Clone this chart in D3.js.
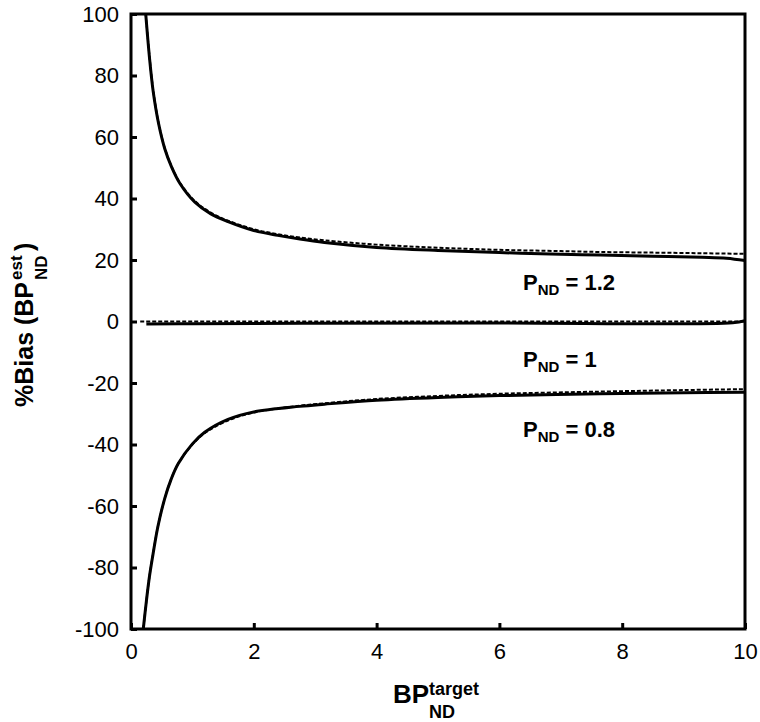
<!DOCTYPE html>
<html>
<head>
<meta charset="utf-8">
<script src="https://cdn.jsdelivr.net/npm/d3@7"></script>
<style>
  body { margin: 0; background: #fff; }
  svg { display: block; }
  text { font-family: "Liberation Sans", Arial, Helvetica, sans-serif; }
</style>
</head>
<body>
<svg id="chart" width="760" height="722"></svg>
<script>
// ---- data ----
const xTicks = [0, 2, 4, 6, 8, 10];
const yTicks = [-100, -80, -60, -40, -20, 0, 20, 40, 60, 80, 100];

// P_ND = 1.2
const high_solid_x = [0.24, 0.3, 0.36, 0.45, 0.55, 0.66, 0.8, 1.04, 1.3, 1.58, 2, 2.39, 2.75, 3.15, 4, 5, 6, 7, 7.64, 8.5, 9.3, 9.7, 10];
const high_solid_y = [100, 86, 75, 64.3, 56.2, 50.3, 44.8, 38.8, 35, 32.5, 29.6, 28, 26.8, 25.7, 24.1, 23.1, 22.4, 21.9, 21.6, 21.2, 20.9, 20.6, 19.8];
const high_dash_x  = [0.24, 0.3, 0.36, 0.45, 0.55, 0.66, 0.8, 1.04, 1.3, 1.58, 2, 2.39, 2.75, 3.15, 4, 5, 6, 7, 7.64, 8.5, 9.3, 10];
const high_dash_y  = [100, 86.5, 75.5, 64.5, 56.4, 50.5, 45, 39.2, 35.4, 32.8, 30, 28.4, 27.3, 26.4, 25, 24, 23.3, 22.9, 22.6, 22.4, 22.2, 22];

// P_ND = 1
const mid_solid_x = [0.25, 1, 3, 6, 9.8, 10];
const mid_solid_y = [-0.8, -0.7, -0.6, -0.5, -0.4, 0.3];
const mid_dash_x  = [0.15, 10];
const mid_dash_y  = [0, 0];

// P_ND = 0.8
const low_solid_x = [0.2, 0.25, 0.3, 0.36, 0.44, 0.55, 0.65, 0.77, 1, 1.2, 1.58, 2, 2.75, 3.15, 4, 5, 6, 7.64, 9, 10];
const low_solid_y = [-100, -91, -83, -75.5, -66.5, -57.5, -51.5, -46.2, -39.8, -36, -31.8, -29.4, -27.6, -26.9, -25.6, -24.7, -24.1, -23.5, -23.2, -23];
const low_dash_x  = [0.2, 0.25, 0.3, 0.36, 0.44, 0.55, 0.65, 0.77, 1, 1.2, 1.58, 2, 2.75, 3.15, 4, 5, 6, 7.64, 9, 10];
const low_dash_y  = [-100, -91, -83, -75.5, -66.5, -57.5, -51.5, -46.2, -40, -36.3, -32.2, -29.6, -27.4, -26.6, -25.2, -24.2, -23.5, -22.8, -22.3, -22];

const labels = [
  { main: "P", sub: "ND", rest: " = 1.2", y: 290 },
  { main: "P", sub: "ND", rest: " = 1",   y: 366.5 },
  { main: "P", sub: "ND", rest: " = 0.8", y: 436.5 }
];

// ---- layout ----
const svg = d3.select("#chart");
const L = 131, R = 745, T = 14, B = 629;

const x = d3.scaleLinear().domain([0, 10]).range([L, R]);
const y = d3.scaleLinear().domain([-100, 100]).range([B, T]);

svg.append("defs").append("clipPath").attr("id", "clip")
  .append("rect").attr("x", L).attr("y", T).attr("width", R - L).attr("height", B - T);

const zip = (xs, ys) => xs.map((v, i) => [v, ys[i]]);
const line = d3.line().x(d => x(d[0])).y(d => y(d[1])).curve(d3.curveCatmullRom.alpha(0.5));

const g = svg.append("g").attr("clip-path", "url(#clip)");

const series = [
  { d: zip(high_solid_x, high_solid_y), dash: false },
  { d: zip(high_dash_x, high_dash_y), dash: true },
  { d: zip(mid_solid_x, mid_solid_y), dash: false },
  { d: zip(mid_dash_x, mid_dash_y), dash: true },
  { d: zip(low_solid_x, low_solid_y), dash: false },
  { d: zip(low_dash_x, low_dash_y), dash: true }
];

series.forEach(s => {
  g.append("path")
    .attr("d", line(s.d))
    .attr("fill", "none")
    .attr("stroke", "#000")
    .attr("stroke-width", s.dash ? 2 : 3)
    .attr("stroke-dasharray", s.dash ? "4,2" : null);
});

// axes (ticks inward)
const fmt = d => String(d);
const xAxis = d3.axisBottom(x).tickValues(xTicks).tickSizeInner(-6).tickSizeOuter(0).tickPadding(10).tickFormat(fmt);
const yAxis = d3.axisLeft(y).tickValues(yTicks).tickSizeInner(-6).tickSizeOuter(0).tickPadding(12).tickFormat(fmt);

const gx = svg.append("g").attr("transform", `translate(0,${B})`).call(xAxis);
const gy = svg.append("g").attr("transform", `translate(${L},0)`).call(yAxis);

[gx, gy].forEach(a => {
  a.select(".domain").remove();
  a.selectAll(".tick line").attr("stroke", "#000").attr("stroke-width", 3);
  a.selectAll(".tick text").attr("fill", "#000").style("font-size", "22px")
    .style("font-family", "'Liberation Sans', Arial, sans-serif");
});
gx.selectAll(".tick text").attr("dy", "0.9em");

// frame
svg.append("rect")
  .attr("x", L).attr("y", T).attr("width", R - L).attr("height", B - T)
  .attr("fill", "none").attr("stroke", "#000").attr("stroke-width", 3);

// curve labels
labels.forEach(lb => {
  const t = svg.append("text").attr("x", 523).attr("y", lb.y)
    .style("font-size", "22px").style("font-weight", "bold").attr("fill", "#000");
  t.append("tspan").text(lb.main);
  t.append("tspan").text(lb.sub).style("font-size", "15px").attr("dy", 5);
  t.append("tspan").text(lb.rest).attr("dy", -5);
});

// x-axis title
const xt = svg.append("text").attr("x", 393).attr("y", 703)
  .style("font-size", "26px").style("font-weight", "bold").attr("fill", "#000");
xt.append("tspan").text("BP");
svg.append("text").attr("x", 429).attr("y", 695)
  .style("font-size", "18px").style("font-weight", "bold").attr("fill", "#000").text("target");
svg.append("text").attr("x", 429).attr("y", 718)
  .style("font-size", "18px").style("font-weight", "bold").attr("fill", "#000").text("ND");

// y-axis title (rotated)
const yt = svg.append("g").attr("transform", "translate(33,407) rotate(-90)");
yt.append("text").attr("x", 0).attr("y", 0)
  .style("font-size", "25px").style("font-weight", "bold").attr("fill", "#000").text("%Bias (BP");
yt.append("text").attr("x", 127).attr("y", -11)
  .style("font-size", "17px").style("font-weight", "bold").attr("fill", "#000").text("est");
yt.append("text").attr("x", 127).attr("y", 14)
  .style("font-size", "17px").style("font-weight", "bold").attr("fill", "#000").text("ND");
yt.append("text").attr("x", 156).attr("y", 0)
  .style("font-size", "25px").style("font-weight", "bold").attr("fill", "#000").text(")");
</script>
</body>
</html>
